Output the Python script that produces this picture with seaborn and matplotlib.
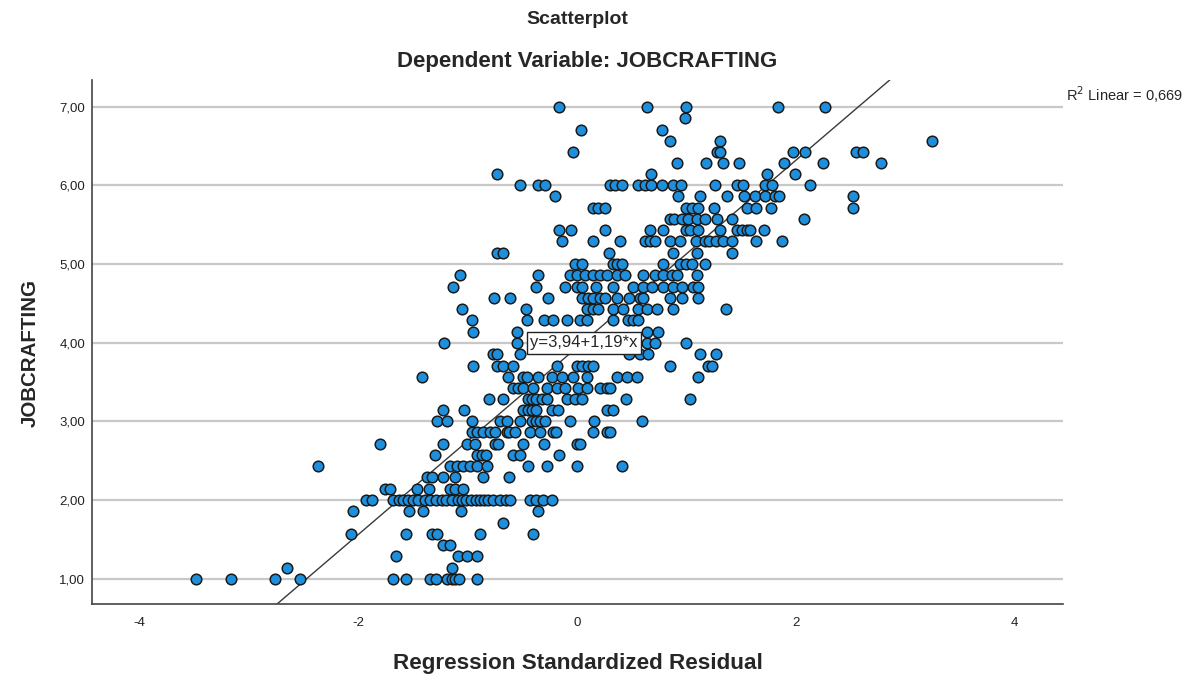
import matplotlib
matplotlib.use("Agg")
import matplotlib.pyplot as plt
import seaborn as sns
import pandas as pd

# ---- data: regression standardized residual (x) grouped by JOBCRAFTING level (y)
lvl_100 = [-3.48, -3.16, -2.76, -2.53, -1.68, -1.56, -1.34, -1.29, -1.19, -1.14, -1.11, -1.08, -0.91]
lvl_114 = [-2.65, -1.14]
lvl_129 = [-1.65, -1.09, -1.00, -0.91]
lvl_143 = [-1.22, -1.16]
lvl_157 = [-2.06, -1.56, -1.32, -1.28, -0.89, -0.40]
lvl_171 = [-0.68]
lvl_186 = [-2.05, -1.53, -1.41, -1.06, -0.36]
lvl_200 = [-1.93, -1.87, -1.68, -1.63, -1.59, -1.54, -1.50, -1.45, -1.39, -1.34, -1.29, -1.23,
           -1.20, -1.14, -1.09, -1.05, -1.01, -0.97, -0.92, -0.89, -0.85, -0.81, -0.77, -0.70,
           -0.65, -0.61, -0.43, -0.37, -0.31, -0.23]
lvl_214 = [-1.75, -1.71, -1.46, -1.35, -1.16, -1.11, -1.04]
lvl_229 = [-1.37, -1.32, -1.22, -1.11, -0.86, -0.62]
lvl_243 = [-2.37, -1.16, -1.10, -1.04, -0.98, -0.91, -0.82, -0.45, -0.27, 0.00, 0.41]
lvl_257 = [-1.30, -0.91, -0.87, -0.83, -0.58, -0.52, -0.16]
lvl_271 = [-1.80, -1.22, -1.00, -0.93, -0.75, -0.72, -0.49, -0.30, 0.00, 0.03]
lvl_286 = [-0.96, -0.91, -0.86, -0.79, -0.75, -0.64, -0.62, -0.57, -0.43, -0.34, -0.22, -0.19,
           0.15, 0.27, 0.30]
lvl_300 = [-1.28, -1.19, -0.96, -0.70, -0.64, -0.52, -0.41, -0.37, -0.34, -0.29, -0.06, 0.16, 0.59]
lvl_314 = [-1.22, -1.03, -0.49, -0.45, -0.41, -0.37, -0.23, -0.17, 0.27, 0.33]
lvl_329 = [-0.80, -0.68, -0.45, -0.41, -0.37, -0.32, -0.27, -0.09, -0.02, 0.05, 0.45, 1.03]
lvl_343 = [-0.58, -0.54, -0.49, -0.40, -0.27, -0.18, -0.11, 0.01, 0.09, 0.21, 0.27, 0.30]
lvl_357 = [-1.42, -0.63, -0.49, -0.46, -0.36, -0.23, -0.14, -0.04, 0.09, 0.37, 0.46, 0.55, 1.11]
lvl_371 = [-0.95, -0.73, -0.68, -0.58, -0.18, 0.00, 0.05, 0.10, 0.15, 0.85, 1.20, 1.23]
lvl_386 = [-0.77, -0.73, -0.52, 0.48, 0.58, 0.65, 1.12, 1.27]
lvl_400 = [-1.21, -0.55, 0.64, 0.71, 1.00]
lvl_414 = [-0.95, -0.55, 0.64, 0.74]
lvl_429 = [-0.96, -0.46, -0.30, -0.22, -0.09, 0.03, 0.09, 0.33, 0.47, 0.51, 0.56]
lvl_443 = [-1.05, -0.47, 0.09, 0.15, 0.19, 0.33, 0.42, 0.56, 0.64, 0.73, 0.88, 1.36]
lvl_457 = [-0.76, -0.61, -0.26, 0.05, 0.10, 0.15, 0.21, 0.26, 0.37, 0.48, 0.58, 0.60, 0.85,
           0.96, 1.11]
lvl_471 = [-1.13, -0.37, -0.11, 0.00, 0.05, 0.17, 0.33, 0.51, 0.60, 0.69, 0.79, 0.88, 0.96,
           1.06, 1.11]
lvl_486 = [-1.07, -0.36, -0.06, 0.00, 0.07, 0.15, 0.21, 0.27, 0.37, 0.44, 0.60, 0.71, 0.79,
           0.87, 0.91, 1.10]
lvl_500 = [-0.02, 0.05, 0.33, 0.37, 0.41, 0.79, 0.94, 1.00, 1.05, 1.17]
lvl_514 = [-0.73, -0.68, 0.29, 0.88, 1.10, 1.42]
lvl_529 = [-0.14, 0.15, 0.39, 0.62, 0.67, 0.71, 0.85, 0.94, 1.09, 1.17, 1.21, 1.27, 1.33,
           1.42, 1.64, 1.87]
lvl_543 = [-0.16, -0.05, 0.26, 0.67, 0.79, 1.00, 1.03, 1.11, 1.31, 1.46, 1.51, 1.55, 1.58, 1.71]
lvl_557 = [0.85, 0.89, 0.96, 1.01, 1.10, 1.17, 1.28, 1.42, 2.07]
lvl_571 = [0.15, 0.19, 0.26, 1.00, 1.05, 1.11, 1.25, 1.55, 1.64, 1.77, 2.52]
lvl_586 = [-0.20, 0.92, 1.12, 1.37, 1.53, 1.63, 1.72, 1.81, 1.85, 2.52]
lvl_600 = [-0.52, -0.36, -0.29, 0.30, 0.35, 0.41, 0.56, 0.62, 0.68, 0.78, 0.88, 0.95, 1.26,
           1.46, 1.52, 1.72, 1.78, 2.13]
lvl_614 = [-0.73, 0.68, 1.74, 1.99]
lvl_629 = [0.91, 1.18, 1.33, 1.48, 1.89, 2.25, 2.78]
lvl_643 = [-0.04, 1.28, 1.31, 1.97, 2.08, 2.55, 2.61]
lvl_657 = [0.85, 1.31, 3.24]
lvl_671 = [0.04, 0.78]
lvl_686 = [0.99]
lvl_700 = [-0.16, 0.64, 1.00, 1.84, 2.27]

rows = [
    (1.00, lvl_100), (1.14, lvl_114), (1.29, lvl_129), (1.43, lvl_143), (1.57, lvl_157),
    (1.71, lvl_171), (1.86, lvl_186), (2.00, lvl_200), (2.14, lvl_214), (2.29, lvl_229),
    (2.43, lvl_243), (2.57, lvl_257), (2.71, lvl_271), (2.86, lvl_286), (3.00, lvl_300),
    (3.14, lvl_314), (3.29, lvl_329), (3.43, lvl_343), (3.57, lvl_357), (3.71, lvl_371),
    (3.86, lvl_386), (4.00, lvl_400), (4.14, lvl_414), (4.29, lvl_429), (4.43, lvl_443),
    (4.57, lvl_457), (4.71, lvl_471), (4.86, lvl_486), (5.00, lvl_500), (5.14, lvl_514),
    (5.29, lvl_529), (5.43, lvl_543), (5.57, lvl_557), (5.71, lvl_571), (5.86, lvl_586),
    (6.00, lvl_600), (6.14, lvl_614), (6.29, lvl_629), (6.43, lvl_643), (6.57, lvl_657),
    (6.71, lvl_671), (6.86, lvl_686), (7.00, lvl_700),
]

fit_intercept = 3.94
fit_slope = 1.19
r2_text = "R$^2$ Linear = 0,669"
eq_text = "y=3,94+1,19*x"

x_ticks = [-4, -2, 0, 2, 4]
x_tick_labels = ["-4", "-2", "0", "2", "4"]
y_ticks = [1, 2, 3, 4, 5, 6, 7]
y_tick_labels = ["1,00", "2,00", "3,00", "4,00", "5,00", "6,00", "7,00"]

xs, ys = [], []
for lvl, vals in rows:
    for v in vals:
        xs.append(v)
        ys.append(lvl)
df = pd.DataFrame({"resid": xs, "jc": ys})

# ---- style
sns.set_theme(style="white")
plt.rcParams["font.family"] = ["Liberation Sans", "DejaVu Sans"]

fig = plt.figure(figsize=(11.98, 6.79), dpi=100)
ax = fig.add_axes([92 / 1198, 75 / 679, (1063 - 92) / 1198, (604 - 80) / 679])

xlim = (-4.43, 4.44)
ylim = (0.68, 7.34)
ax.set_xlim(*xlim)
ax.set_ylim(*ylim)

for yt in y_ticks:
    ax.axhline(yt, color="#c8c8c8", lw=1.6, zorder=0)

# fit line
x0 = (ylim[0] - fit_intercept) / fit_slope
x1 = (ylim[1] - fit_intercept) / fit_slope
ax.plot([x0, x1], [ylim[0], ylim[1]], color="#3a3a3a", lw=1.0, zorder=2)

sns.scatterplot(data=df, x="resid", y="jc", ax=ax, s=58, color="#1e8fdc",
                edgecolor="#1a1a1a", linewidth=1.1, zorder=3, legend=False)

ax.set_xticks(x_ticks)
ax.set_xticklabels(x_tick_labels, fontsize=9.5, color="#222222")
ax.set_yticks(y_ticks)
ax.set_yticklabels(y_tick_labels, fontsize=9.5, color="#222222")
ax.tick_params(axis="y", length=0, pad=5)
ax.tick_params(axis="x", length=0, pad=9)
ax.set_xlabel("")
ax.set_ylabel("")

for side in ["top", "right"]:
    ax.spines[side].set_visible(False)
for side in ["left", "bottom"]:
    ax.spines[side].set_color("#444444")
    ax.spines[side].set_linewidth(1.2)

# equation label box
ax.text(-0.43, 4.0, eq_text, fontsize=12, ha="left", va="center", zorder=5,
        bbox=dict(boxstyle="square,pad=0.2", fc="white", ec="#222222", lw=1.0))

# R2 label
fig.text(1066 / 1198, 1 - 95 / 679, r2_text, fontsize=10.5, ha="left", va="center")

fig.text(577 / 1198, 1 - 20 / 679, "Scatterplot", fontsize=14, fontweight="bold",
         ha="center", va="center")
fig.text(587 / 1198, 1 - 62 / 679, "Dependent Variable: JOBCRAFTING", fontsize=16,
         fontweight="bold", ha="center", va="center")
fig.text(578 / 1198, 1 - 663 / 679, "Regression Standardized Residual", fontsize=16.2,
         fontweight="bold", ha="center", va="center")
fig.text(30 / 1198, 1 - 353 / 679, "JOBCRAFTING", fontsize=14.8, fontweight="bold",
         ha="center", va="center", rotation=90)

fig.savefig("out.png", dpi=100)
